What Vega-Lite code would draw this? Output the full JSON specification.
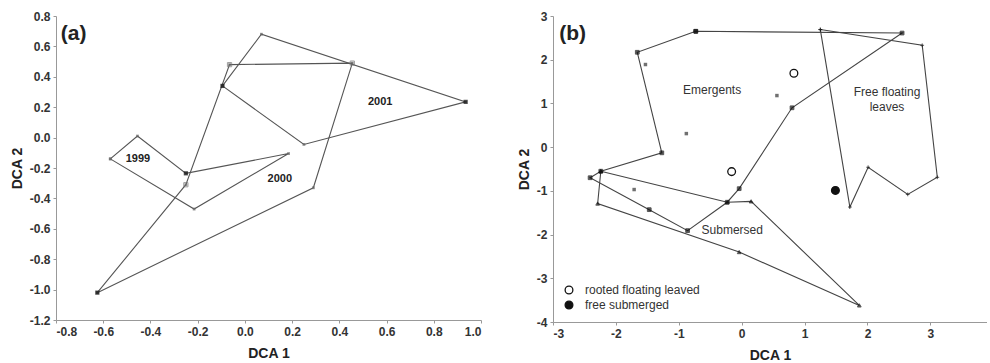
{
  "$schema": "https://vega.github.io/schema/vega-lite/v6.json",
  "padding": {"left": 10, "top": 10, "right": 0, "bottom": 0},
  "spacing": 35,
  "resolve": {"legend": {"fill": "independent"}},
  "config": {
    "font": "Liberation Sans",
    "view": {"stroke": null},
    "axis": {
      "labelFont": "Liberation Sans", "labelFontSize": 12, "labelFontWeight": "bold", "labelColor": "#333",
      "titleFont": "Liberation Sans", "titleFontSize": 14, "titleFontWeight": "bold", "titleColor": "#222",
      "domainColor": "#999", "tickColor": "#999", "tickSize": 3, "grid": false, "labelPadding": 3,
      "labelExpr": "replace(datum.label, '\u2212', '-')"
    },
    "axisX": {"titlePadding": 9},
    "axisY": {"titlePadding": 5},
    "legend": {"labelFont": "Liberation Sans", "labelFontSize": 12, "labelColor": "#333"}
  },
  "datasets": {
    "polyA": [
      {"poly": "1999", "ord": 1, "x": -0.57, "y": -0.14},
      {"poly": "1999", "ord": 2, "x": -0.455, "y": 0.01},
      {"poly": "1999", "ord": 3, "x": -0.25, "y": -0.235},
      {"poly": "1999", "ord": 4, "x": 0.185, "y": -0.105},
      {"poly": "1999", "ord": 5, "x": -0.215, "y": -0.47},
      {"poly": "1999", "ord": 6, "x": -0.57, "y": -0.14},
      {"poly": "2000", "ord": 1, "x": -0.625, "y": -1.02},
      {"poly": "2000", "ord": 2, "x": -0.25, "y": -0.31},
      {"poly": "2000", "ord": 3, "x": -0.065, "y": 0.48},
      {"poly": "2000", "ord": 4, "x": 0.455, "y": 0.49},
      {"poly": "2000", "ord": 5, "x": 0.29, "y": -0.33},
      {"poly": "2000", "ord": 6, "x": -0.625, "y": -1.02},
      {"poly": "2001", "ord": 1, "x": -0.095, "y": 0.34},
      {"poly": "2001", "ord": 2, "x": 0.07, "y": 0.68},
      {"poly": "2001", "ord": 3, "x": 0.935, "y": 0.235},
      {"poly": "2001", "ord": 4, "x": 0.25, "y": -0.045},
      {"poly": "2001", "ord": 5, "x": -0.095, "y": 0.34}
    ],
    "filledA": [
      {"x": -0.25, "y": -0.235},
      {"x": -0.625, "y": -1.02},
      {"x": -0.095, "y": 0.34},
      {"x": 0.935, "y": 0.235}
    ],
    "openA": [
      {"x": -0.25, "y": -0.31},
      {"x": -0.065, "y": 0.48},
      {"x": 0.455, "y": 0.49}
    ],
    "textA": [
      {"x": -0.453, "y": -0.143, "label": "1999"},
      {"x": 0.148, "y": -0.27, "label": "2000"},
      {"x": 0.573, "y": 0.236, "label": "2001"}
    ],
    "polyB": [
      {"group": "Emergents", "ord": 1, "x": -0.73, "y": 2.65},
      {"group": "Emergents", "ord": 2, "x": 2.55, "y": 2.61},
      {"group": "Emergents", "ord": 3, "x": 0.8, "y": 0.9},
      {"group": "Emergents", "ord": 4, "x": -0.04, "y": -0.95},
      {"group": "Emergents", "ord": 5, "x": -0.23, "y": -1.26},
      {"group": "Emergents", "ord": 6, "x": -0.86, "y": -1.91},
      {"group": "Emergents", "ord": 7, "x": -1.47, "y": -1.43},
      {"group": "Emergents", "ord": 8, "x": -2.41, "y": -0.7},
      {"group": "Emergents", "ord": 9, "x": -2.24, "y": -0.55},
      {"group": "Emergents", "ord": 10, "x": -1.27, "y": -0.13},
      {"group": "Emergents", "ord": 11, "x": -1.66, "y": 2.17},
      {"group": "Emergents", "ord": 12, "x": -0.73, "y": 2.65},
      {"group": "Submersed", "ord": 1, "x": -2.24, "y": -0.55},
      {"group": "Submersed", "ord": 2, "x": -0.23, "y": -1.26},
      {"group": "Submersed", "ord": 3, "x": 0.15, "y": -1.24},
      {"group": "Submersed", "ord": 4, "x": 1.87, "y": -3.62},
      {"group": "Submersed", "ord": 5, "x": -0.04, "y": -2.4},
      {"group": "Submersed", "ord": 6, "x": -2.29, "y": -1.29},
      {"group": "Submersed", "ord": 7, "x": -2.24, "y": -0.55},
      {"group": "Free floating leaves", "ord": 1, "x": 1.25, "y": 2.69},
      {"group": "Free floating leaves", "ord": 2, "x": 2.87, "y": 2.33},
      {"group": "Free floating leaves", "ord": 3, "x": 3.11, "y": -0.69},
      {"group": "Free floating leaves", "ord": 4, "x": 2.64, "y": -1.08},
      {"group": "Free floating leaves", "ord": 5, "x": 2.01, "y": -0.46},
      {"group": "Free floating leaves", "ord": 6, "x": 1.72, "y": -1.37},
      {"group": "Free floating leaves", "ord": 7, "x": 1.25, "y": 2.69}
    ],
    "innerB": [
      {"group": "Emergents", "x": -1.53, "y": 1.89},
      {"group": "Emergents", "x": -0.88, "y": 0.31},
      {"group": "Emergents", "x": 0.56, "y": 1.18},
      {"group": "Emergents", "x": -1.71, "y": -0.97}
    ],
    "circlesB": [
      {"x": -0.16, "y": -0.56, "type": "rooted floating leaved"},
      {"x": 0.83, "y": 1.69, "type": "rooted floating leaved"},
      {"x": 1.49, "y": -0.99, "type": "free submerged"}
    ],
    "textB": [
      {"x": -0.47, "y": 1.3, "label": "Emergents"},
      {"x": 2.31, "y": 1.26, "label": "Free floating"},
      {"x": 2.31, "y": 0.92, "label": "leaves"},
      {"x": -0.15, "y": -1.89, "label": "Submersed"}
    ]
  },
  "hconcat": [
    {
      "width": 425,
      "height": 304,
      "encoding": {
        "x": {"type": "quantitative", "scale": {"domain": [-0.8, 1.0], "nice": false, "zero": false},
              "axis": {"title": "DCA 1", "values": [-0.8, -0.6, -0.4, -0.2, 0, 0.2, 0.4, 0.6, 0.8, 1.0], "format": ".1f"}},
        "y": {"type": "quantitative", "scale": {"domain": [-1.2, 0.8], "nice": false, "zero": false},
              "axis": {"title": "DCA 2", "values": [-1.2, -1.0, -0.8, -0.6, -0.4, -0.2, 0, 0.2, 0.4, 0.6, 0.8], "format": ".1f"}}
      },
      "layer": [
        {"mark": {"type": "rule", "color": "#999", "strokeWidth": 1}, "encoding": {"x": {"datum": 0, "type": "quantitative"}, "y": null}},
        {"mark": {"type": "rule", "color": "#999", "strokeWidth": 1}, "encoding": {"y": {"datum": 0, "type": "quantitative"}, "x": null}},
        {"mark": {"type": "rule", "color": "#ccc", "strokeWidth": 1.5, "strokeDash": [4, 2]}, "encoding": {"y": {"datum": 0.8, "type": "quantitative"}, "x": null}},
        {"mark": {"type": "rule", "color": "#aaa", "strokeWidth": 1}, "encoding": {"x": {"datum": 1.0, "type": "quantitative"}, "y": null}},
        {
          "data": {"name": "polyA"},
          "mark": {"type": "line", "color": "#555", "strokeWidth": 1.1},
          "encoding": {
            "x": {"field": "x", "type": "quantitative"},
            "y": {"field": "y", "type": "quantitative"},
            "order": {"field": "ord", "type": "quantitative"},
            "detail": {"field": "poly", "type": "nominal"}
          }
        },
        {
          "data": {"name": "polyA"},
          "mark": {"type": "point", "shape": "square", "filled": true, "color": "#666", "size": 8},
          "encoding": {"x": {"field": "x", "type": "quantitative"}, "y": {"field": "y", "type": "quantitative"}}
        },
        {
          "data": {"name": "openA"},
          "mark": {"type": "point", "shape": "square", "filled": false, "color": "#777", "size": 18, "strokeWidth": 1},
          "encoding": {"x": {"field": "x", "type": "quantitative"}, "y": {"field": "y", "type": "quantitative"}}
        },
        {
          "data": {"name": "filledA"},
          "mark": {"type": "point", "shape": "square", "filled": true, "color": "#111", "size": 18},
          "encoding": {"x": {"field": "x", "type": "quantitative"}, "y": {"field": "y", "type": "quantitative"}}
        },
        {
          "data": {"name": "textA"},
          "mark": {"type": "text", "fontSize": 11, "fontWeight": "bold", "color": "#222", "font": "Liberation Sans"},
          "encoding": {"x": {"field": "x", "type": "quantitative"}, "y": {"field": "y", "type": "quantitative"}, "text": {"field": "label"}}
        },
        {
          "data": {"values": [{"x": -0.78, "y": 0.68, "label": "(a)"}]},
          "mark": {"type": "text", "fontSize": 21, "fontWeight": "bold", "color": "#222", "align": "left", "baseline": "middle", "font": "Liberation Sans"},
          "encoding": {"x": {"field": "x", "type": "quantitative"}, "y": {"field": "y", "type": "quantitative"}, "text": {"field": "label"}}
        }
      ]
    },
    {
      "width": 434,
      "height": 306,
      "encoding": {
        "x": {"type": "quantitative", "scale": {"domain": [-3, 3.9], "nice": false, "zero": false},
              "axis": {"title": "DCA 1", "values": [-3, -2, -1, 0, 1, 2, 3]}},
        "y": {"type": "quantitative", "scale": {"domain": [-4, 3], "nice": false, "zero": false},
              "axis": {"title": "DCA 2", "values": [-4, -3, -2, -1, 0, 1, 2, 3]}}
      },
      "layer": [
        {"mark": {"type": "rule", "color": "#ccc", "strokeWidth": 1.5, "strokeDash": [4, 2]}, "encoding": {"y": {"datum": 3, "type": "quantitative"}, "x": null}},
        {
          "data": {"name": "polyB"},
          "mark": {"type": "line", "color": "#444", "strokeWidth": 1.1},
          "encoding": {
            "x": {"field": "x", "type": "quantitative"},
            "y": {"field": "y", "type": "quantitative"},
            "order": {"field": "ord", "type": "quantitative"},
            "detail": {"field": "group", "type": "nominal"}
          }
        },
        {
          "data": {"name": "polyB"},
          "mark": {"type": "point", "filled": true, "color": "#111", "stroke": "#111", "strokeWidth": 1, "size": 14},
          "encoding": {
            "x": {"field": "x", "type": "quantitative"},
            "y": {"field": "y", "type": "quantitative"},
            "shape": {"field": "group", "type": "nominal", "legend": null,
                      "scale": {"domain": ["Emergents", "Submersed", "Free floating leaves"], "range": ["square", "triangle-up", "M-1,0L1,0M0,-1L0,1"]}}
          }
        },
        {
          "data": {"name": "innerB"},
          "mark": {"type": "point", "shape": "square", "filled": true, "color": "#333", "size": 12},
          "encoding": {"x": {"field": "x", "type": "quantitative"}, "y": {"field": "y", "type": "quantitative"}}
        },
        {
          "data": {"name": "circlesB"},
          "mark": {"type": "point", "shape": "circle", "filled": true, "stroke": "#111", "strokeWidth": 1.3, "size": 60, "opacity": 1},
          "encoding": {
            "x": {"field": "x", "type": "quantitative"},
            "y": {"field": "y", "type": "quantitative"},
            "fill": {"field": "type", "type": "nominal",
                     "scale": {"domain": ["rooted floating leaved", "free submerged"], "range": ["white", "#111"]},
                     "legend": {"title": null, "orient": "bottom-left", "offset": 8, "padding": 2, "rowPadding": 1,
                                "symbolType": "circle", "symbolSize": 60, "symbolStrokeColor": "#111", "symbolStrokeWidth": 1.3,
                                "labelOffset": 10, "symbolOpacity": 1}}
          }
        },
        {
          "data": {"name": "textB"},
          "mark": {"type": "text", "fontSize": 12, "color": "#333", "font": "Liberation Sans"},
          "encoding": {"x": {"field": "x", "type": "quantitative"}, "y": {"field": "y", "type": "quantitative"}, "text": {"field": "label"}}
        },
        {
          "data": {"values": [{"x": -2.9, "y": 2.58, "label": "(b)"}]},
          "mark": {"type": "text", "fontSize": 21, "fontWeight": "bold", "color": "#222", "align": "left", "baseline": "middle", "font": "Liberation Sans"},
          "encoding": {"x": {"field": "x", "type": "quantitative"}, "y": {"field": "y", "type": "quantitative"}, "text": {"field": "label"}}
        }
      ]
    }
  ]
}
